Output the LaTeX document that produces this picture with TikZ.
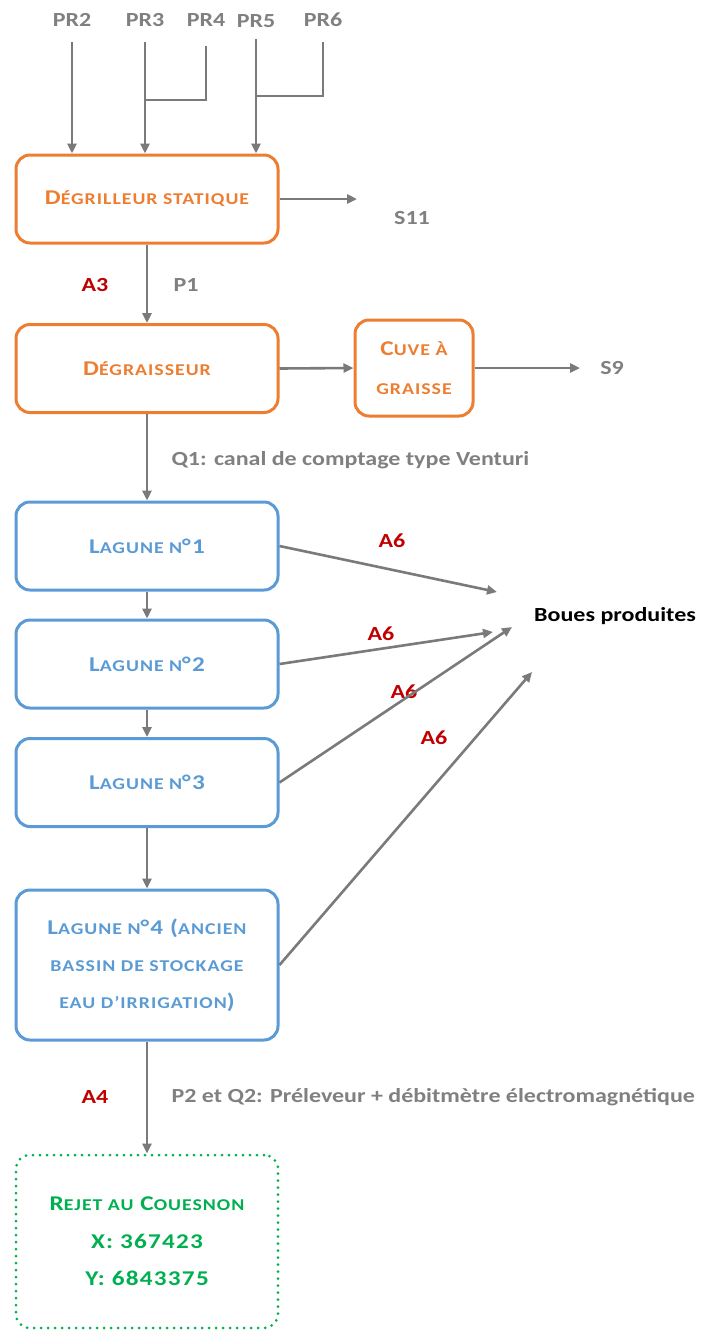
\documentclass[tikz,border=0pt]{standalone}
\usepackage{fontspec}
\setmainfont{Carlito}[FakeStretch=1.2]
\newfontfamily\boxfont{Carlito}[FakeStretch=1.2,LetterSpace=6]
\usetikzlibrary{arrows.meta,positioning}
\definecolor{orangeline}{RGB}{237,125,49}
\definecolor{blueline}{RGB}{91,155,213}
\definecolor{greenline}{RGB}{0,176,80}
\definecolor{arrowgray}{RGB}{122,122,122}
\definecolor{labelgray}{RGB}{128,128,128}
\definecolor{codered}{RGB}{192,0,0}
% small capitals drawn by hand (Carlito has none)
\newcommand\lowcaps[1]{{\fontsize{16.5}{18}\selectfont\MakeUppercase{#1}}}

\begin{document}
\begin{tikzpicture}[x=1pt,y=-1pt,font=\fontsize{20}{24}\selectfont,
    box/.style={rounded corners=14pt,line width=3pt,minimum width=262pt,minimum height=88pt,align=center,
      font=\boxfont\bfseries\fontsize{21}{24}\selectfont},
    obox/.style={box,draw=orangeline,text=orangeline},
    bbox/.style={box,draw=blueline,text=blueline},
    gbox/.style={box,draw=greenline,text=greenline,line cap=round,dash pattern=on 0pt off 7pt,
      font=\boxfont\bfseries\fontsize{21}{37.5}\selectfont},
    arr/.style={draw=arrowgray,line width=2.6pt,-{Triangle[length=10pt,width=9pt]}},
    pipe/.style={draw=arrowgray,line width=2.6pt},
    lbl/.style={text=labelgray,font=\fontsize{20}{24}\selectfont\bfseries},
    code/.style={text=codered,font=\fontsize{20}{24}\selectfont\bfseries}]
  \useasboundingbox (0,0) rectangle (718,1331);

  % inlets
  \node[lbl] (pr2) at (72,20) {PR2};
  \node[lbl] (pr3) at (145,20) {PR3};
  \node[lbl] (pr4) at (206,20) {PR4};
  \node[lbl] (pr5) at (256,21) {PR5};
  \node[lbl] (pr6) at (323,20) {PR6};

  % pretreatment
  \node[obox] (degr) at (147,199) {D\lowcaps{égrilleur statique}};
  \node[obox] (degraiss) at (147,368.5) {D\lowcaps{égraisseur}};
  \node[obox,minimum width=118pt,minimum height=96pt,font=\boxfont\bfseries\fontsize{21}{39}\selectfont]
    (cuve) at (414,368) {C\lowcaps{uve à}\\\lowcaps{graisse}};

  % lagoons
  \node[bbox] (lag1) at (147,546) {L\lowcaps{agune n}°1};
  \node[bbox] (lag2) at (147,664) {L\lowcaps{agune n}°2};
  \node[bbox] (lag3) at (147,782.5) {L\lowcaps{agune n}°3};
  \node[bbox,minimum height=150pt,font=\boxfont\bfseries\fontsize{21}{37}\selectfont]
    (lag4) at (147,965) {L\lowcaps{agune n}°4 (\lowcaps{ancien}\\\lowcaps{bassin de stockage}\\\lowcaps{eau d’irrigation})};
  \node[gbox,minimum height=173pt] (rejet) at (147,1241.5)
    {R\lowcaps{ejet au} C\lowcaps{ouesnon}\\X: 367423\\Y: 6843375};

  % outlets and labels
  \node[lbl] (s11) at (412,218) {S11};
  \node[lbl] (s9) at (612,368) {S9};
  \node[font=\fontsize{20}{24}\selectfont\bfseries] (boues) at (615,616) {Boues produites};
  \node[code] (a3) at (95,285) {A3};
  \node[lbl,anchor=west] (p1) at (170,285) {P1};
  \node[lbl,anchor=west] (q1) at (168,460) {Q1: canal de comptage type Venturi};
  \node[code] (a4) at (95,1097) {A4};
  \node[lbl,anchor=west] (p2) at (168,1097) {P2 et Q2: Préleveur + débitmètre électromagnétique};
  \node[code] (a6a) at (392,541) {A6};
  \node[code] (a6b) at (381,634) {A6};
  \node[code] (a6c) at (404,692) {A6};
  \node[code] (a6d) at (434,738) {A6};

  \coordinate (j34) at (pr3.south |- 0,100);
  \coordinate (j56) at (pr5.south |- 0,96);
  \coordinate (s11in) at (357,199);
  \coordinate (s9in) at (580,368);
  \coordinate (b1) at (497,592);
  \coordinate (b2) at (493,632);
  \coordinate (b3) at (512,627);
  \coordinate (b4) at (532,672);

  \draw[arr,shorten <=12pt] (pr2.south) -- (pr2.south |- degr.north);
  \draw[arr,shorten <=12pt] (pr3.south) -- (pr3.south |- degr.north);
  \draw[pipe,shorten <=16pt] (pr4.south) |- (j34);
  \draw[arr,shorten <=8pt] (pr5.south) -- (pr5.south |- degr.north);
  \draw[pipe,shorten <=12pt] (pr6.south) |- (j56);

  \draw[arr] (degr.east) -- (s11in);
  \draw[arr] (degr.south) -- (degraiss.north);
  \draw[arr] (degraiss.east) -- (cuve.west);
  \draw[arr] (cuve.east) -- (s9in);
  \draw[arr] (degraiss.south) -- (lag1.north);
  \draw[arr] (lag1.south) -- (lag2.north);
  \draw[arr] (lag2.south) -- (lag3.north);
  \draw[arr] (lag3.south) -- (lag4.north);
  \draw[arr] (lag4.south) -- (rejet.north);

  \draw[arr] (lag1.east) -- (b1);
  \draw[arr] (lag2.east) -- (b2);
  \draw[arr] (lag3.east) -- (b3);
  \draw[arr] (lag4.east) -- (b4);
\end{tikzpicture}
\end{document}
